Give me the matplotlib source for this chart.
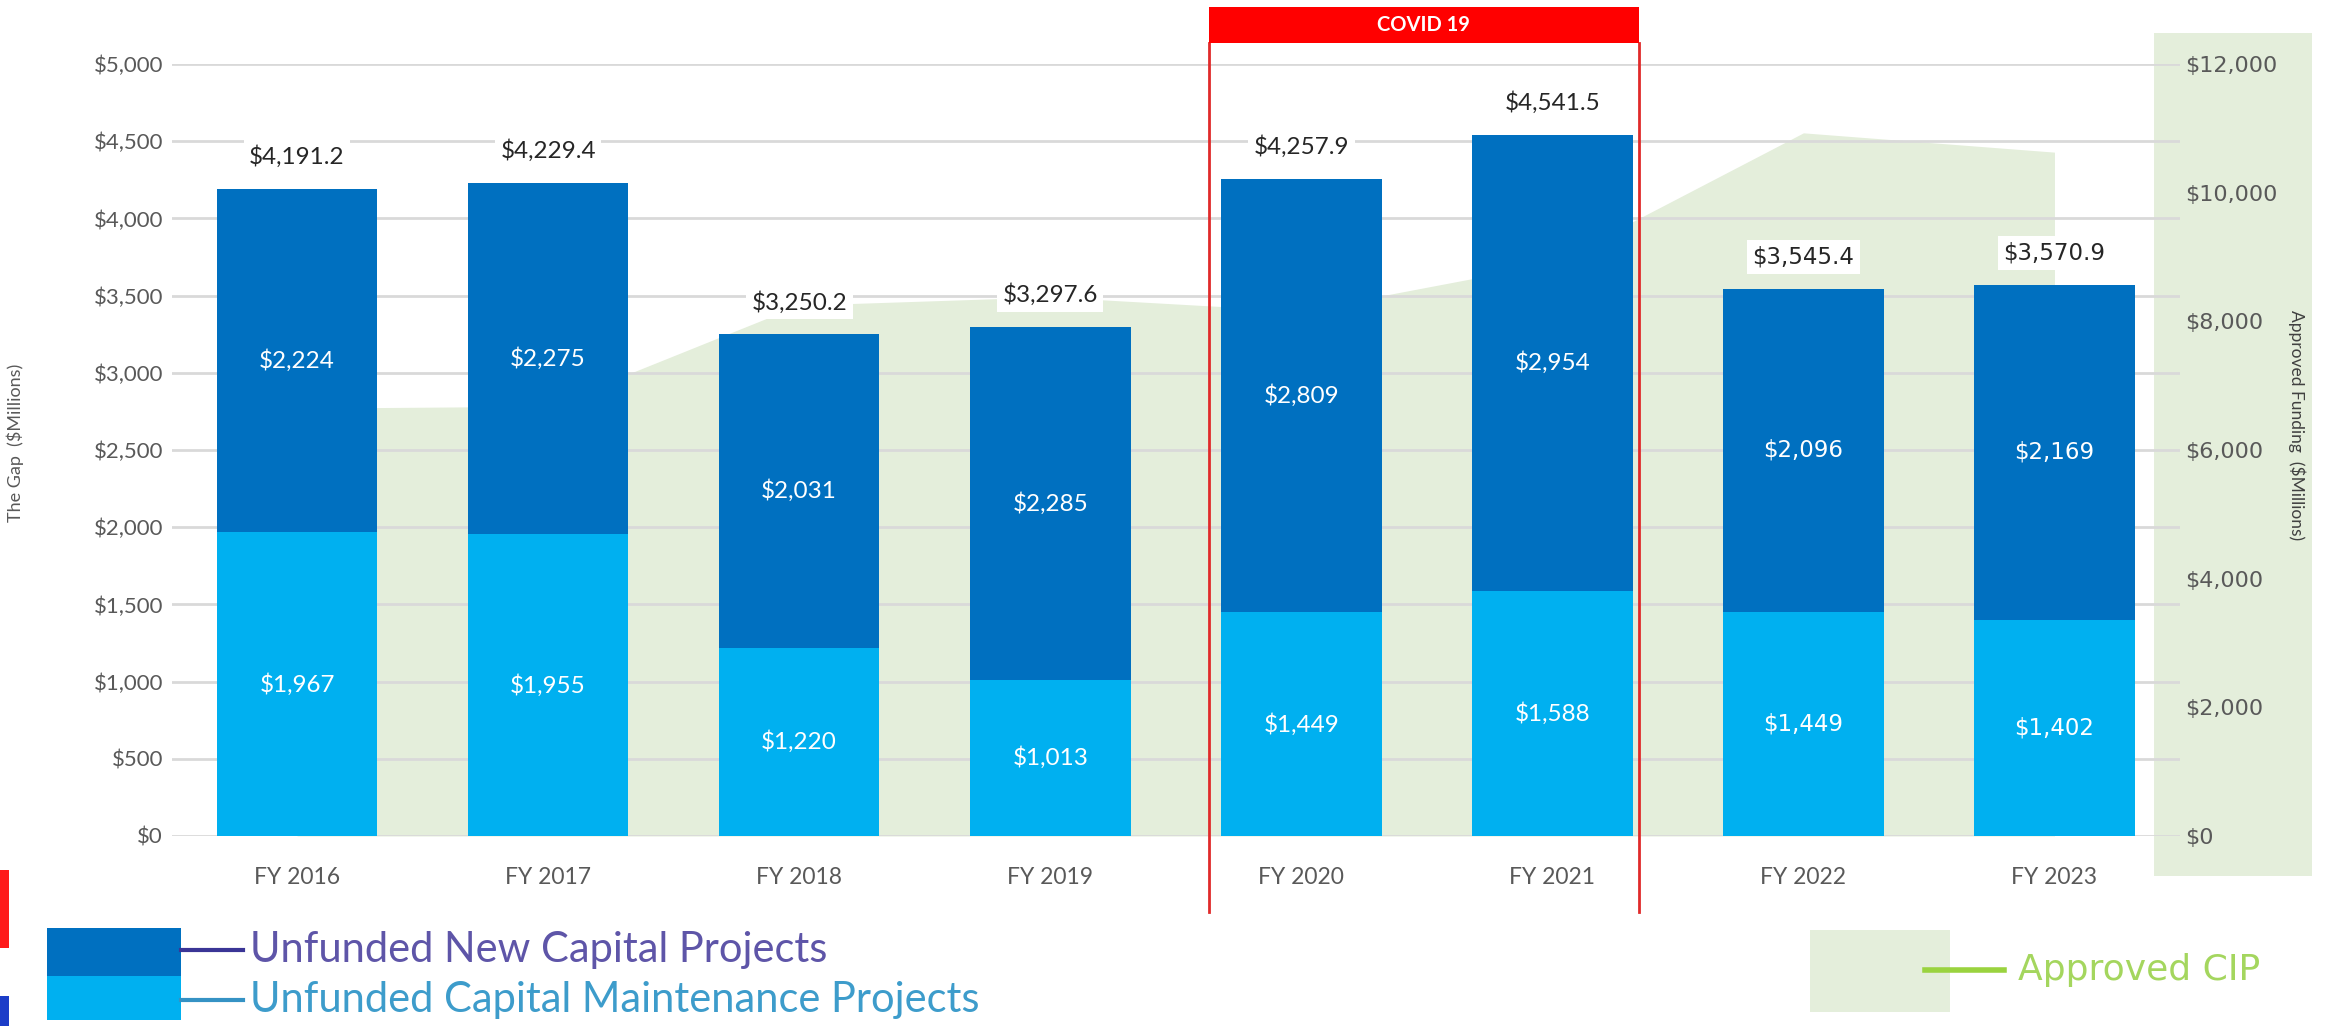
import matplotlib
matplotlib.use("Agg")
import matplotlib.pyplot as plt
import matplotlib.transforms as mtransforms
from matplotlib.patches import Rectangle
from matplotlib.lines import Line2D
from matplotlib.ticker import FuncFormatter

plt.rcParams['font.family'] = ['Lato', 'DejaVu Sans']

# gap by fiscal year, $ millions
years = ['FY 2016', 'FY 2017', 'FY 2018', 'FY 2019', 'FY 2020', 'FY 2021', 'FY 2022', 'FY 2023']
maintenance = [1967, 1955, 1220, 1013, 1449, 1588, 1449, 1402]
new_capital = [2224, 2275, 2031, 2285, 2809, 2954, 2096, 2169]
totals = [4191.2, 4229.4, 3250.2, 3297.6, 4257.9, 4541.5, 3545.4, 3570.9]
# approved CIP funding (right axis)
approved_cip = [6650, 6680, 8250, 8380, 8160, 8900, 10930, 10630]
covid_years = ['FY 2020', 'FY 2021']

dark_blue = '#0070c0'
light_blue = '#00b0f0'
green_fill = '#e4eedb'
grey_txt = '#595959'
# later years were typed in a wider face
label_font = ['Lato'] * 6 + ['DejaVu Sans'] * 2

W, H = 2329, 1026
fig = plt.figure(figsize=(W / 100, H / 100), dpi=100)
fig.patch.set_facecolor('white')

ax = fig.add_axes([171.5 / W, 1 - 836 / H, (2180 - 171.5) / W, 772 / H])
ax2 = ax.twinx()
ax.set_zorder(ax2.get_zorder() + 1)
ax.patch.set_visible(False)
ax2.patch.set_visible(False)

x = list(range(len(years)))

# shaded box behind the right hand scale
fig.patches.append(Rectangle((2154 / W, 1 - 876 / H), 158 / W, 843 / H,
                             transform=fig.transFigure, facecolor=green_fill,
                             edgecolor='none', zorder=-5))

ax2.fill_between(x, approved_cip, 0, color=green_fill, lw=0)
ax2.set_ylim(0, 12000)
ax2.set_yticks(range(0, 12001, 2000))
ax2.yaxis.set_major_formatter(FuncFormatter(lambda v, p: f'${v:,.0f}'))
ax2.tick_params(axis='y', length=0, pad=4, labelsize=16, labelcolor=grey_txt)
for t in ax2.get_yticklabels():
    t.set_fontfamily('DejaVu Sans')

ax.bar(x, maintenance, width=0.64, color=light_blue, zorder=2)
ax.bar(x, new_capital, width=0.64, bottom=maintenance, color=dark_blue, zorder=2)

ax.set_xlim(-0.5, 7.5)
ax.set_ylim(0, 5000)
ax.set_yticks(range(0, 5001, 500))
ax.yaxis.set_major_formatter(FuncFormatter(lambda v, p: f'${v:,.0f}'))
ax.set_xticks(x)
ax.set_xticklabels(years)
ax.yaxis.grid(True, color='#d9d9d9', lw=2)
ax.set_axisbelow(True)
ax.tick_params(axis='y', length=0, pad=6, labelsize=16, labelcolor=grey_txt)
ax.tick_params(axis='x', length=0, pad=22, labelsize=16.5, labelcolor=grey_txt)
for a in (ax, ax2):
    for s in a.spines.values():
        s.set_visible(False)

for i in x:
    fs = 17.5 if label_font[i] == 'Lato' else 16.5
    ax.text(i, maintenance[i] / 2, f'${maintenance[i]:,}', ha='center', va='center',
            color='white', fontsize=fs, family=label_font[i], zorder=3)
    ax.text(i, maintenance[i] + new_capital[i] / 2, f'${new_capital[i]:,}', ha='center',
            va='center', color='white', fontsize=fs, family=label_font[i], zorder=3)
    ax.annotate(f'${totals[i]:,.1f}', (i, totals[i]), xytext=(0, 32),
                textcoords='offset pixels', ha='center', va='center', color='#262626',
                fontsize=fs, family=label_font[i],
                bbox=dict(fc='white', ec='none', pad=4), zorder=4)

# COVID 19 bracket around the pandemic years (open at the bottom)
c0 = years.index(covid_years[0]) - 0.368
c1 = years.index(covid_years[-1]) + 0.344
blend = mtransforms.blended_transform_factory(ax.transData, fig.transFigure)
y_bot, y_top, y_head = 1 - 912 / H, 1 - 7 / H, 1 - 43 / H
for cx in (c0, c1):
    ax.add_line(Line2D([cx, cx], [y_bot, y_head], transform=blend, color='#e02a2a',
                       lw=2, clip_on=False, zorder=5))
ax.add_patch(Rectangle((c0, y_head), c1 - c0, y_top - y_head, transform=blend,
                       facecolor='#ff0000', edgecolor='none', clip_on=False, zorder=5))
ax.text((c0 + c1) / 2, (y_head + y_top) / 2, 'COVID 19', transform=blend, ha='center',
        va='center', color='white', fontsize=14.5, fontweight='bold', zorder=6)

# axis titles
fig.text(15 / W, 1 - 443 / H, 'The Gap  ($Millions)', rotation=90, ha='center',
         va='center', fontsize=13, color=grey_txt)
fig.text(2297 / W, 1 - 425 / H, 'Approved Funding  ($Millions)', rotation=270,
         ha='center', va='center', fontsize=12.5, color='#404040')

# legend, bottom left
fig.patches.append(Rectangle((47 / W, 1 - 976 / H), 134 / W, 48 / H,
                             transform=fig.transFigure, facecolor=dark_blue, edgecolor='none'))
fig.patches.append(Rectangle((47 / W, 1 - 1020 / H), 134 / W, 44 / H,
                             transform=fig.transFigure, facecolor=light_blue, edgecolor='none'))
fig.lines.append(Line2D([181 / W, 243 / W], [1 - 950 / H] * 2, transform=fig.transFigure,
                        color='#3a3596', lw=3))
fig.lines.append(Line2D([181 / W, 243 / W], [1 - 1000 / H] * 2, transform=fig.transFigure,
                        color='#3592c4', lw=3))
fig.text(250 / W, 1 - 950 / H, 'Unfunded New Capital Projects', ha='left', va='center',
         fontsize=30, color='#5e55a8')
fig.text(250 / W, 1 - 1000 / H, 'Unfunded Capital Maintenance Projects', ha='left',
         va='center', fontsize=30, color='#3d9ccb')

# legend, bottom right
fig.patches.append(Rectangle((1810 / W, 1 - 1012 / H), 140 / W, 82 / H,
                             transform=fig.transFigure, facecolor=green_fill, edgecolor='none'))
fig.lines.append(Line2D([1925 / W, 2004 / W], [1 - 970 / H] * 2, transform=fig.transFigure,
                        color='#9ad33f', lw=4))
fig.text(2018 / W, 1 - 970 / H, 'Approved CIP', ha='left', va='center', fontsize=26,
         family='DejaVu Sans', color='#a4d65e')

# page edge marks on the left
fig.patches.append(Rectangle((0, 1 - 948 / H), 9 / W, 78 / H, transform=fig.transFigure,
                             facecolor='#ff1a1a', edgecolor='none'))
fig.patches.append(Rectangle((0, 0), 9 / W, 30 / H, transform=fig.transFigure,
                             facecolor='#1c3dc8', edgecolor='none'))

fig.savefig('out.png', dpi=100)
